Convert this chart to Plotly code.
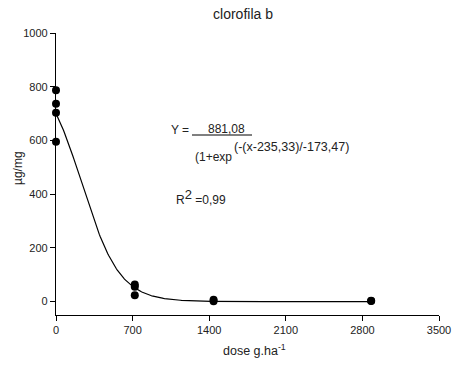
import numpy as np
import plotly.graph_objects as go

# observed data
dose = [0, 0, 0, 0, 720, 720, 720, 1440, 1440, 2880, 2880]
clorofila_b = [787, 737, 703, 595, 64, 55, 24, 7, 1, 2, 3]

# fitted sigmoid parameters shown in the chart
a_fit, x0_fit, b_fit = 881.08, 235.33, -173.47
x_fit = np.linspace(0, 2880, 300)
y_fit = a_fit / (1 + np.exp(-(x_fit - x0_fit) / b_fit))

x_ticks = [0, 700, 1400, 2100, 2800, 3500]
y_ticks = [0, 200, 400, 600, 800, 1000]

font = "Liberation Sans, Arial, sans-serif"
L, R, T, B, W, H = 56, 13, 33, 51, 452, 366
PW, PH = W - L - R, H - T - B


def px(x):
    return (x - L) / PW


def py(y):
    return (H - B - y) / PH


fig = go.Figure()
fig.add_trace(go.Scatter(x=x_fit, y=y_fit, mode="lines",
                         line=dict(color="black", width=1.2), showlegend=False,
                         hoverinfo="skip", cliponaxis=False))
fig.add_trace(go.Scatter(x=dose, y=clorofila_b, mode="markers",
                         marker=dict(color="black", size=8), showlegend=False,
                         cliponaxis=False))

fig.update_layout(
    width=W, height=H,
    margin=dict(l=L, r=R, t=T, b=B, autoexpand=False),
    paper_bgcolor="white", plot_bgcolor="white",
    font=dict(family=font, size=11, color="#222"),
    title=dict(text="clorofila b", x=(243 / W), xanchor="center", y=1 - 14 / H, yanchor="middle",
               font=dict(size=14, color="#222")),
)
fig.update_xaxes(range=[0, 3500], tickvals=x_ticks, ticks="outside", ticklen=5,
                 tickcolor="black", showline=True, linecolor="black", linewidth=1.2,
                 showgrid=False, zeroline=False, automargin=False)
fig.update_yaxes(range=[-50, 1000], tickvals=y_ticks, ticks="outside", ticklen=5,
                 tickcolor="black", showline=True, linecolor="black", linewidth=1.2,
                 showgrid=False, zeroline=False, automargin=False)

# axis titles
fig.add_annotation(xref="paper", yref="paper", x=px(254), y=py(350), text="dose g.ha<sup>-1</sup>",
                   showarrow=False, xanchor="center", yanchor="middle",
                   font=dict(size=12.5, color="#222", family=font))
fig.add_annotation(xref="paper", yref="paper", x=px(18), y=py(168), text="µg/mg", textangle=-90,
                   showarrow=False, xanchor="center", yanchor="middle",
                   font=dict(size=12, color="#222", family=font))

ann_font = dict(size=12, color="#222", family=font)
fig.add_annotation(xref="paper", yref="paper", x=px(169), y=py(130), text="Y =", showarrow=False,
                   xanchor="left", yanchor="middle", font=ann_font)
fig.add_annotation(xref="paper", yref="paper", x=px(206), y=py(129), text="881,08", showarrow=False,
                   xanchor="left", yanchor="middle", font=ann_font)
fig.add_annotation(xref="paper", yref="paper", x=px(193), y=py(157), text="(1+exp", showarrow=False,
                   xanchor="left", yanchor="middle", font=ann_font)
fig.add_annotation(xref="paper", yref="paper", x=px(232), y=py(147), text="(-(x-235,33)/-173,47)",
                   showarrow=False, xanchor="left", yanchor="middle",
                   font=dict(size=12.5, color="#222", family=font))
fig.add_annotation(xref="paper", yref="paper", x=px(174), y=py(197),
                   text="R<sup><span style='font-size:13px'>2</span></sup> =0,99",
                   showarrow=False, xanchor="left", yanchor="middle", font=ann_font)
fig.add_shape(type="line", xref="paper", yref="paper", x0=px(192), x1=px(252), y0=py(135), y1=py(135),
              line=dict(color="black", width=1))

fig.write_html("out.html")
